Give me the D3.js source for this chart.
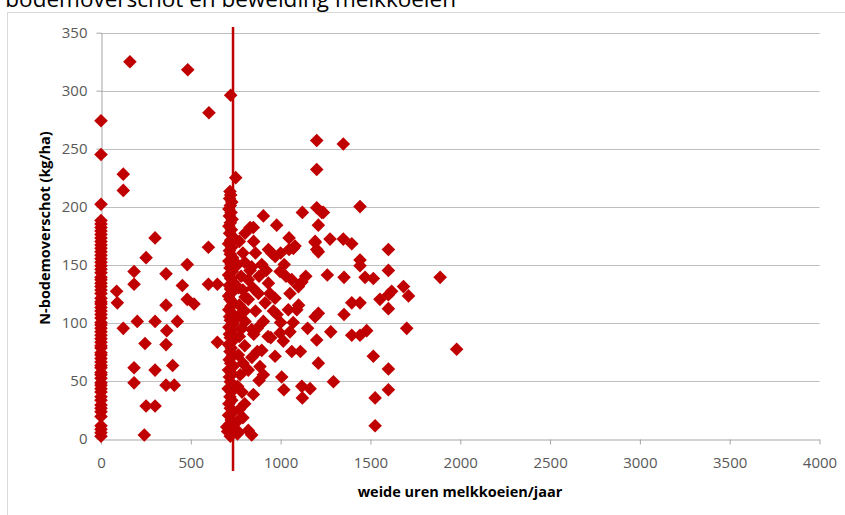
<!DOCTYPE html>
<html>
<head>
<meta charset="utf-8">
<script src="https://cdn.jsdelivr.net/npm/d3@7"></script>
<style>
  body { margin: 0; background: #fff; }
  svg { display: block; font-family: "Open Sans", "Liberation Sans", sans-serif; }
  .tick text { fill: #595959; font-size: 15px; }
</style>
</head>
<body>
<svg width="845" height="515"></svg>
<script>
// weide uren = 0 : N-bodemoverschot (kg/ha)
var nulWeide = [2, 5, 8, 11, 19, 23, 26, 29, 33, 36, 40, 43, 46, 48, 52, 55, 57, 61, 63, 66, 69, 72, 74,
  78, 80, 83, 86, 89, 92, 95, 98, 100, 104, 107, 110, 113, 116, 118, 121, 125, 128, 131, 134, 137, 139,
  143, 146, 149, 152, 155, 158, 161, 164, 167, 170, 173, 176, 179, 182, 185, 188, 202, 245, 274];

// dichte kolom rond 720 uur  [uren, kg/ha]
var kolom720 = [[720,2],[705,6],[730,9],[715,12],[725,16],[710,20],[735,23],[720,26],[712,30],[728,33],
  [718,36],[725,40],[708,43],[732,46],[720,49],[715,53],[728,56],[710,59],[735,62],[722,65],[714,68],
  [730,71],[718,75],[725,78],[710,81],[733,84],[720,87],[715,90],[728,93],[712,96],[736,99],[720,102],
  [716,105],[730,108],[711,111],[724,114],[734,117],[718,120],[710,123],[728,126],[721,129],[714,132],
  [735,135],[722,138],[710,141],[730,144],[718,147],[725,150],[712,153],[733,156],[720,159],[715,162],
  [728,165],[710,168],[722,171],[734,174],[716,177],[726,180],[712,183],[720,186],[730,189],[715,192],
  [724,195],[712,198],[720,201],[728,204],[716,207],[722,210],[718,213],[722,296],[750,225],[745,8],
  [760,4],[700,10],
  [770,170],[790,160],[760,150],[780,140],[800,152],[765,130],[790,128],[770,115],[800,110],[760,105],
  [785,95],[770,88],[800,80],[765,72],[790,65],[775,55],[760,45],[785,40],[770,25],[760,15],[800,30],
  [790,18],[820,120],[830,145],[845,130],[860,110],[850,90],[870,75],[840,70],[860,160],[880,140],
  [870,95],[880,50],[850,170]];

// overige bedrijven  [uren, kg/ha]
var verspreid = [[124,228],[124,214],[301,173],[251,156],[598,165],[480,150],[184,144],[362,142],
  [184,133],[453,132],[598,133],[648,133],[87,127],[91,117],[362,115],[480,120],[518,116],[202,101],
  [301,101],[425,101],[124,95],[366,93],[245,82],[362,81],[648,83],[184,61],[399,63],[301,59],[184,48],
  [362,46],[408,46],[251,28],[301,28],[241,3],[161,325],[483,318],[601,281],
  [904,192],[978,184],[1121,195],[1201,199],[1201,232],[1201,257],[830,182],[802,177],[1047,173],
  [1080,166],[1047,163],[932,163],[970,157],[839,148],[895,150],[997,144],[1192,169],[1201,163],
  [820,137],[932,134],[1062,137],[1118,135],[802,122],[876,125],[914,117],[969,121],[1052,125],
  [1099,131],[1090,111],[980,107],[1043,111],[1192,105],[802,101],[904,101],[839,94],[945,87],
  [997,91],[1052,92],[1015,84],[1201,85],[1062,75],[969,71],[895,76],[885,62],[1210,65],[820,59],
  [1006,53],[904,55],[1018,42],[1118,45],[1164,43],[1121,35],[848,38],[839,3],[764,6],[820,7],
  [1349,254],[1442,200],[1238,195],[1210,184],[1275,172],[1349,172],[1396,168],[1210,161],[1600,163],
  [1442,154],[1442,149],[1600,145],[1260,141],[1353,139],[1470,139],[1516,138],[1684,131],[1712,123],
  [1600,124],[1553,120],[1618,127],[1600,112],[1396,117],[1442,117],[1210,108],[1353,107],[1702,95],
  [1279,92],[1396,89],[1442,89],[1479,93],[1516,71],[1600,60],[1294,49],[1600,42],[1526,35],[1526,11],
  [1888,139],[1980,77],[1229,195],[1071,164],[950,160],[1192,170],[848,182],
  [920,145],[1000,160],[1030,140],[960,110],[1100,115],[1140,140],[1150,95],[1070,100],[1000,100],
  [940,125],[1110,75],[930,88],[1020,150]];

// verticale lijn
var grensUren = 735;
var grensBereik = [-28, 355];

var xTicks = [0, 500, 1000, 1500, 2000, 2500, 3000, 3500, 4000];
var yTicks = [0, 50, 100, 150, 200, 250, 300, 350];

var titel = "N bodemoverschot en beweiding melkkoeien";
var xTitel = "weide uren melkkoeien/jaar";
var yTitel = "N-bodemoverschot (kg/ha)";

var svg = d3.select("svg"),
    rood = "#C00000";

var x = d3.scaleLinear().domain([0, 4000]).range([101, 819.5]);
var y = d3.scaleLinear().domain([0, 350]).range([438.5, 32.7]);

// frame of chart area
svg.append("rect")
    .attr("x", 7.5).attr("y", 12.5)
    .attr("width", 860).attr("height", 520)
    .attr("fill", "none")
    .attr("stroke", "#d9d9d9");

svg.append("text")
    .attr("x", 456).attr("y", 7)
    .attr("text-anchor", "end")
    .attr("font-size", 22.5)
    .attr("fill", "#000")
    .text(titel);

// gridlines
svg.append("g")
  .selectAll("line")
  .data(yTicks.filter(function(d) { return d > 0; }))
  .enter().append("line")
    .attr("x1", x(0)).attr("x2", x(4000))
    .attr("y1", function(d) { return Math.round(y(d)) + 0.5; })
    .attr("y2", function(d) { return Math.round(y(d)) + 0.5; })
    .attr("stroke", "#bfbfbf")
    .attr("stroke-width", 1.2);

var xAxis = svg.append("g")
    .attr("transform", "translate(0," + (Math.round(y(0)) + 0.5) + ")")
    .call(d3.axisBottom(x).tickValues(xTicks).tickFormat(d3.format("d"))
      .tickSize(5).tickPadding(13).tickSizeOuter(0));

var yAxis = svg.append("g")
    .attr("transform", "translate(" + (Math.round(x(0)) + 0.5) + ",0)")
    .call(d3.axisLeft(y).tickValues(yTicks).tickFormat(d3.format("d"))
      .tickSize(5).tickPadding(9).tickSizeOuter(0));

[xAxis, yAxis].forEach(function(a) {
  a.select(".domain").attr("stroke", "#a6a6a6");
  a.selectAll(".tick line").attr("stroke", "#a6a6a6");
  a.selectAll(".tick text").attr("font-family", "'Open Sans', sans-serif").attr("font-size", 15);
});

svg.append("text")
    .attr("x", 460).attr("y", 497)
    .attr("text-anchor", "middle")
    .attr("font-weight", "bold")
    .attr("font-size", 14.5)
    .text(xTitel);

svg.append("text")
    .attr("transform", "translate(50,228) rotate(-90)")
    .attr("text-anchor", "middle")
    .attr("font-weight", "bold")
    .attr("font-size", 14.5)
    .text(yTitel);

var punten = nulWeide.map(function(v) { return [0, v]; })
    .concat(kolom720)
    .concat(verspreid);

var ruit = "M0,-6.8L6.8,0L0,6.8L-6.8,0Z";

svg.append("g")
  .selectAll("path")
  .data(punten)
  .enter().append("path")
    .attr("d", ruit)
    .attr("transform", function(d) { return "translate(" + x(d[0]) + "," + y(d[1]) + ")"; })
    .attr("fill", rood);

svg.append("path")
    .datum(grensBereik.map(function(v) { return [grensUren, v]; }))
    .attr("d", d3.line().x(function(d) { return x(d[0]); }).y(function(d) { return y(d[1]); }))
    .attr("stroke", rood)
    .attr("stroke-width", 2.5)
    .attr("fill", "none");
</script>
</body>
</html>
